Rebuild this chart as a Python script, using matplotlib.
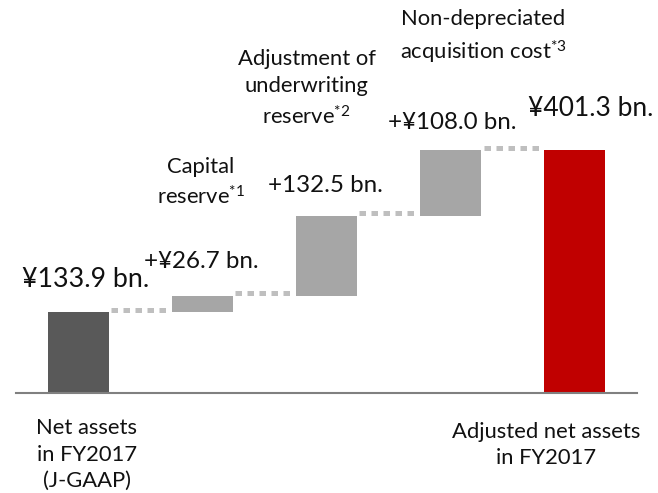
import matplotlib
matplotlib.use("Agg")
import matplotlib.pyplot as plt
import numpy as np

plt.rcParams['font.family'] = ['Lato', 'DejaVu Sans']
plt.rcParams['mathtext.fontset'] = 'custom'
plt.rcParams['mathtext.rm'] = 'Lato'
plt.rcParams['mathtext.default'] = 'regular'

# data (¥ bn.)
steps = ["Net assets", "Capital reserve", "Underwriting reserve", "Acquisition cost", "Adjusted"]
values = [133.9, 26.7, 132.5, 108.0, 401.3]
value_labels = ["¥133.9 bn.", "+¥26.7 bn.", "+132.5 bn.", "+¥108.0 bn.", "¥401.3 bn."]
notes = ["", "Capital\nreserve$^{*1}$", "Adjustment of\nunderwriting\nreserve$^{*2}$",
         "Non-depreciated\nacquisition cost$^{*3}$", ""]
bottom_labels = ["Net assets\nin FY2017\n(J-GAAP)", "", "", "", "Adjusted net assets\nin FY2017"]

colors = ["#595959", "#a6a6a6", "#a6a6a6", "#a6a6a6", "#c00000"]

# waterfall: first and last bars stand on the axis, the steps float
cum = np.cumsum(values[:-1])
bottoms = [0.0] + list(cum[:-1]) + [0.0]
tops = [b + v for b, v in zip(bottoms, values)]

fig = plt.figure(figsize=(6.58, 4.93), dpi=100)
ax = fig.add_axes([16 / 658, 100 / 493, 621 / 658, 393 / 493])

x = np.arange(len(values))
w = 0.49
ax.bar(x, values, bottom=bottoms, width=w, color=colors)

# dotted connectors
for i in range(len(values) - 1):
    ax.plot([x[i] + w / 2 + 0.02, x[i + 1] - w / 2 - 0.03], [tops[i] + 4, tops[i] + 4],
            color="#bfbfbf", lw=3.6, linestyle=(0, (1.3, 1.1)), dash_capstyle="butt")

ax.set_xlim(-0.5, 4.5)
ax.set_ylim(0, 650)
for s in ["top", "right", "left"]:
    ax.spines[s].set_visible(False)
ax.spines["bottom"].set_color("#808080")
ax.spines["bottom"].set_linewidth(1.5)
ax.set_xticks([])
ax.set_yticks([])

txt = "#111111"

# value labels
val_pos = [(0.06, 188), (0.99, 218), (1.99, 343), (3.01, 448), (4.13, 471)]
val_size = [19.3, 17.4, 17.4, 17.4, 19]
for (px, py), t, fs in zip(val_pos, value_labels, val_size):
    ax.text(px, py, t, ha="center", va="center", fontsize=fs, color=txt)

note_pos = [None, (0.99, 348), (1.84, 504), (3.26, 589), None]
for p, t in zip(note_pos, notes):
    if p:
        ax.text(p[0], p[1], t, ha="center", va="center", fontsize=15.8, color=txt,
                linespacing=1.45)

bottom_pos = [(0.07, -102), None, None, None, (3.77, -86)]
for p, t in zip(bottom_pos, bottom_labels):
    if p:
        ax.text(p[0], p[1], t, ha="center", va="center", fontsize=15.8, color=txt,
                linespacing=1.4, clip_on=False)

fig.savefig("out.png", dpi=100)
